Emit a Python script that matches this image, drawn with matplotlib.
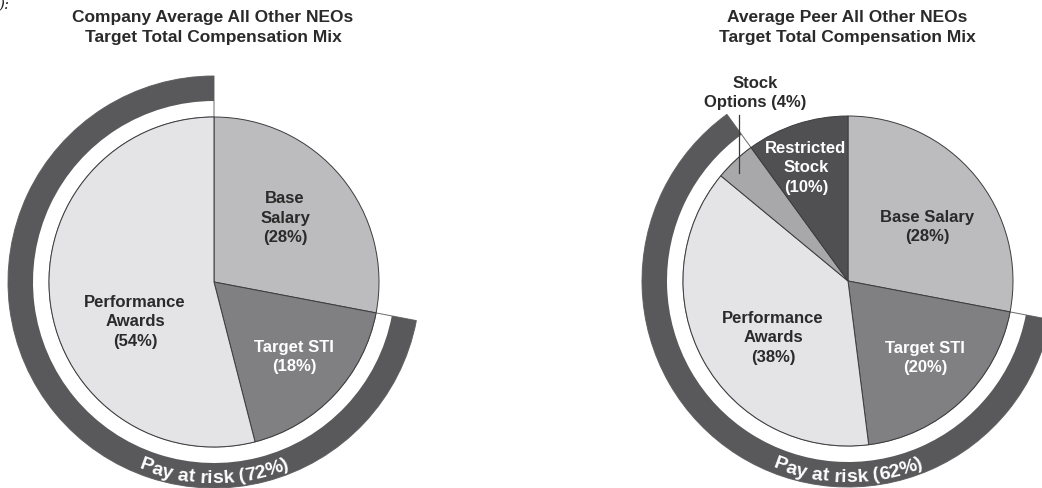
import numpy as np
import matplotlib
matplotlib.use("Agg")
import matplotlib.pyplot as plt
from matplotlib.font_manager import FontProperties, findfont, get_font

# ---------------- data ----------------
left_title = "Company Average All Other NEOs\nTarget Total Compensation Mix"
left_labels = ["Base\nSalary\n(28%)", "Target STI\n(18%)", "Performance\nAwards\n(54%)"]
left_values = [28, 18, 54]
left_risk = 72
left_risk_label = "Pay at risk (72%)"

right_title = "Average Peer All Other NEOs\nTarget Total Compensation Mix"
right_labels = ["Base Salary\n(28%)", "Target STI\n(20%)", "Performance\nAwards\n(38%)",
                "Stock\nOptions (4%)", "Restricted\nStock\n(10%)"]
right_values = [28, 20, 38, 4, 10]
right_risk = 62
right_risk_label = "Pay at risk (62%)"

# ---------------- style ----------------
C_BASE = "#bcbcbe"
C_STI = "#808083"
C_PERF = "#e4e4e6"
C_SO = "#a8a8aa"
C_RS = "#505053"
C_RING = "#59595b"
EDGE = "#3c3c3e"
FAM = "Liberation Sans"

W, H = 1042, 488
fig = plt.figure(figsize=(W / 100, H / 100), dpi=100)
ax = fig.add_axes([0, 0, 1, 1])

R_PIE = 165
R_OUT = 206
R_IN = 181


def curved_text(ax, text, cx, cy, r_base, fs):
    fp = FontProperties(family=FAM, weight="bold", size=fs)
    font = get_font(findfont(fp))
    font.set_size(fs, 100)
    adv = []
    for ch in text:
        g = font.load_char(ord(ch))
        adv.append(g.linearHoriAdvance / 65536)
    L = sum(adv)
    pos = 0
    for ch, a in zip(text, adv):
        s = pos + a / 2 - L / 2
        pos += a
        th = -90 + np.degrees(s / r_base)
        t = np.radians(th)
        if ch.strip():
            ax.text(cx + r_base * np.cos(t), cy + r_base * np.sin(t), ch,
                    rotation=th + 90, rotation_mode="anchor", ha="center",
                    va="baseline", color="white", fontsize=fs,
                    fontweight="bold", family=FAM)


def draw_chart(cx, cy, values, colors, risk, risk_start, risk_label):
    # white band with thin outline (gap between pie and ring)
    w, _ = ax.pie([risk, 100 - risk], center=(cx, cy), radius=R_OUT,
                  startangle=risk_start, counterclock=True,
                  colors=["white", "white"],
                  wedgeprops=dict(width=R_OUT - R_PIE, edgecolor="#6a6a6a",
                                  linewidth=0.7))
    w[1].set_visible(False)
    # dark ring
    w, _ = ax.pie([risk, 100 - risk], center=(cx, cy), radius=R_OUT,
                  startangle=risk_start, counterclock=True,
                  colors=[C_RING, C_RING],
                  wedgeprops=dict(width=R_OUT - R_IN, edgecolor="none"))
    w[1].set_visible(False)
    # pie
    ax.pie(values, center=(cx, cy), radius=R_PIE, startangle=90,
           counterclock=False, colors=colors,
           wedgeprops=dict(edgecolor=EDGE, linewidth=0.7))
    curved_text(ax, risk_label, cx, cy, 201, 14)


# left chart
LCX, LCY = 214, H - 282
draw_chart(LCX, LCY, left_values, [C_BASE, C_STI, C_PERF], left_risk, 90,
           left_risk_label)
# right chart
RCX, RCY = 848, H - 281
draw_chart(RCX, RCY, right_values, [C_BASE, C_STI, C_PERF, C_SO, C_RS],
           right_risk, 90 + right_values[-1] * 3.6, right_risk_label)

lab = dict(ha="center", va="center", fontsize=12, fontweight="bold",
           family=FAM, linespacing=1.38)
# left labels
ax.text(285, H - 218, left_labels[0], color="#2a2a2a", **lab)
ax.text(294, H - 357, left_labels[1], color="white", **lab)
ax.text(135, H - 322, left_labels[2], color="#2a2a2a", **lab)
# right labels
ax.text(927, H - 227, right_labels[0], color="#2a2a2a", **lab)
ax.text(925, H - 358, right_labels[1], color="white", **lab)
ax.text(773, H - 338, right_labels[2], color="#2a2a2a", **lab)
ax.text(755, H - 93, right_labels[3], color="#2a2a2a", **lab)
ax.text(806, H - 168, right_labels[4], color="white", **lab)
ax.plot([739, 739], [H - 115, H - 173], color="#3a3a3a", lw=0.9)

# titles
tt = dict(ha="center", va="center", fontsize=12.5, fontweight="bold",
          family=FAM, color="#2a2a2a", linespacing=1.42)
ax.text(213, H - 27.5, left_title, **tt)
ax.text(847, H - 27.5, right_title, **tt)

# cropped fragment at top-left corner
ax.text(-2, H + 2, "):", ha="left", va="top", fontsize=11, family="DejaVu Serif",
        style="italic", color="#222222")

ax.set_xlim(0, W)
ax.set_ylim(0, H)
ax.set_aspect("equal")
ax.axis("off")
fig.savefig("out.png", dpi=100)
